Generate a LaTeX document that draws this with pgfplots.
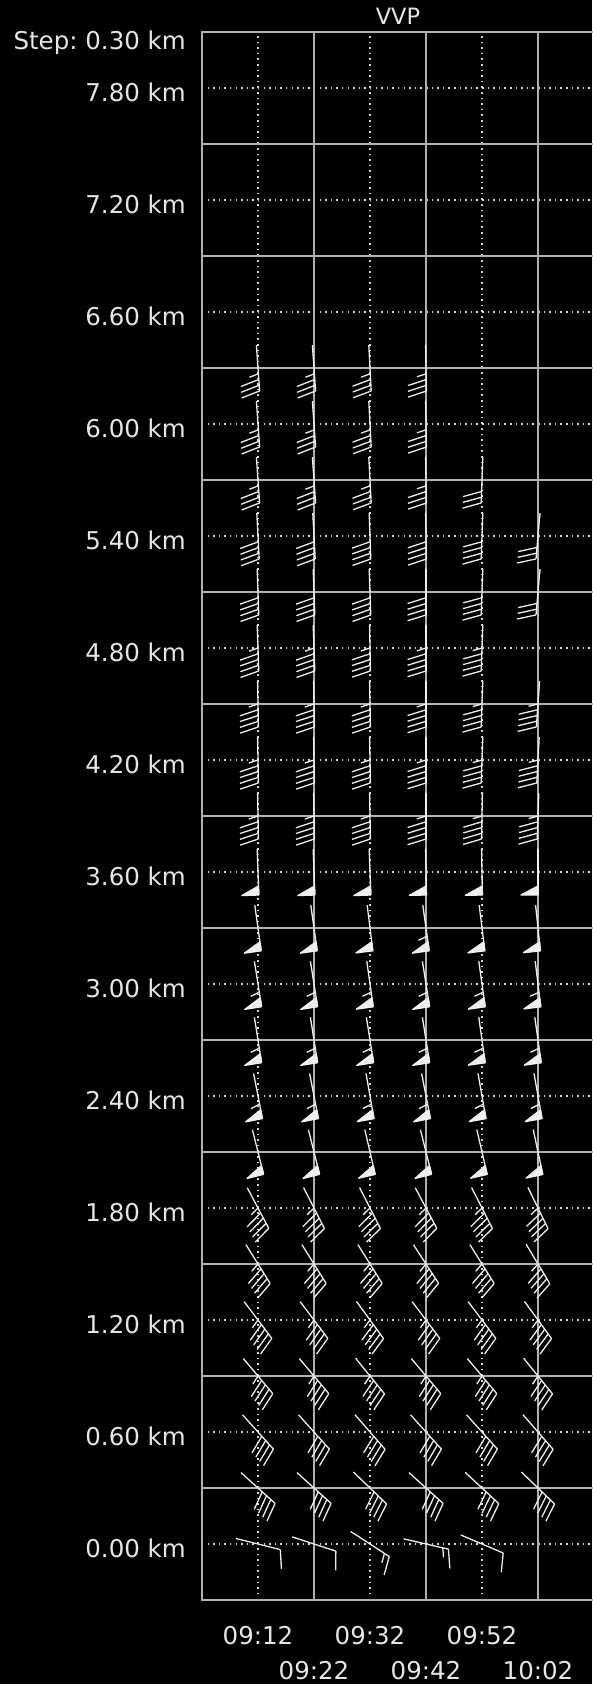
\documentclass[border=0pt]{standalone}
\usepackage{pgfplots}
\pgfplotsset{compat=1.18}
\usepackage{pgfplotstable}
\usepackage{fontspec}
\setmainfont{DejaVu Sans}

\definecolor{txt}{HTML}{E6E6E6}
\definecolor{gridsolid}{HTML}{B0B0B0}
\definecolor{griddot}{HTML}{D8D8D8}
\definecolor{barbcol}{HTML}{EEEEEE}

% t = minutes after 09:00, h = height (km), dir = angle of the barb tip (deg), spd = kt
\pgfplotstableread{
t h dir spd
12 0.0 -14 10
22 0.0 -18 10
32 0.0 -33 15
42 0.0 -13 15
52 0.0 -23 10
12 0.3 -42 40
22 0.3 -42 40
32 0.3 -44 40
42 0.3 -42 40
52 0.3 -43 40
62 0.3 -44 40
12 0.6 -48 40
22 0.6 -48 40
32 0.6 -49 40
42 0.6 -48 40
52 0.6 -48 40
62 0.6 -49 40
12 0.9 -50 45
22 0.9 -50 45
32 0.9 -51 45
42 0.9 -50 45
52 0.9 -50 45
62 0.9 -51 45
12 1.2 -53 45
22 1.2 -53 45
32 1.2 -54 45
42 1.2 -53 45
52 1.2 -53 45
62 1.2 -54 45
12 1.5 -58 45
22 1.5 -58 45
32 1.5 -58 45
42 1.5 -57 45
52 1.5 -58 45
62 1.5 -59 45
12 1.8 -62 45
22 1.8 -63 45
32 1.8 -63 45
42 1.8 -62 45
52 1.8 -63 45
62 1.8 -64 45
12 2.1 -76 50
22 2.1 -76 50
32 2.1 -77 50
42 2.1 -76 50
52 2.1 -77 50
62 2.1 -78 50
12 2.4 -79 55
22 2.4 -79 55
32 2.4 -80 55
42 2.4 -79 55
52 2.4 -80 55
62 2.4 -80 55
12 2.7 -81 55
22 2.7 -81 55
32 2.7 -81 55
42 2.7 -81 55
52 2.7 -82 55
62 2.7 -82 55
12 3.0 -81 55
22 3.0 -81 55
32 3.0 -82 55
42 3.0 -81 55
52 3.0 -82 55
62 3.0 -83 55
12 3.3 -82 50
22 3.3 -82 50
32 3.3 -83 50
42 3.3 -82 55
52 3.3 -83 50
62 3.3 -84 50
12 3.6 -88 50
22 3.6 -88 50
32 3.6 -88 50
42 3.6 -89 50
52 3.6 -89 50
62 3.6 -90 50
12 3.9 -89 45
22 3.9 -89 45
32 3.9 -89 45
42 3.9 -90 45
52 3.9 -91 45
62 3.9 -92 45
12 4.2 -89 45
22 4.2 -89 45
32 4.2 -89 45
42 4.2 -90 45
52 4.2 -92 45
62 4.2 -93 45
12 4.5 -89 45
22 4.5 -89 45
32 4.5 -89 45
42 4.5 -90 45
52 4.5 -92 45
62 4.5 -94 45
12 4.8 -88 45
22 4.8 -88 45
32 4.8 -89 45
42 4.8 -90 45
52 4.8 -92 45
12 5.1 -88 40
22 5.1 -88 40
32 5.1 -88 40
42 5.1 -90 40
52 5.1 -92 40
62 5.1 -95 30
12 5.4 -87 40
22 5.4 -87 40
32 5.4 -88 40
42 5.4 -89 40
52 5.4 -92 40
62 5.4 -95 30
12 5.7 -86 35
22 5.7 -86 35
32 5.7 -87 35
42 5.7 -89 35
52 5.7 -92 30
12 6.0 -86 35
22 6.0 -86 35
32 6.0 -87 35
42 6.0 -89 35
12 6.3 -86 35
22 6.3 -86 35
32 6.3 -87 35
42 6.3 -89 35
}\vvpdata

% wind barb, staff 46pt centred on the point, feathers at the tip end
\pgfdeclareplotmark{barb}{%
  \pgfscope
  \pgfmathtruncatemacro\bfl{floor(\bspd/50)}%
  \pgfmathtruncatemacro\bbr{floor((\bspd-50*\bfl)/10)}%
  \pgfmathtruncatemacro\bhf{(\bspd-50*\bfl-10*\bbr)>=5}%
  \pgftransformrotate{\bdir}%
  \pgfpathmoveto{\pgfqpoint{-23pt}{0pt}}%
  \pgfpathlineto{\pgfqpoint{23pt}{0pt}}%
  \pgfusepathqstroke
  \ifnum\bfl>0
    \foreach \i in {1,...,\bfl}{%
      \pgfmathsetmacro\s{23-12*(\i-1)}%
      \pgfpathmoveto{\pgfpoint{\s pt}{0pt}}%
      \pgfpathlineto{\pgfpoint{\s pt}{-17pt}}%
      \pgfpathlineto{\pgfpoint{\s pt-9pt}{0pt}}%
      \pgfpathclose
      \pgfusepathqfillstroke}%
    \pgfmathsetmacro\boff{46-12*\bfl-2.75}%
  \else
    \def\boff{46}%
  \fi
  \ifnum\bbr>0
    \foreach \j in {1,...,\bbr}{%
      \pgfmathsetmacro\s{\boff-23-5.75*(\j-1)}%
      \pgfpathmoveto{\pgfpoint{\s pt}{0pt}}%
      \pgfpathlineto{\pgfpoint{\s pt+5.75pt}{-18.4pt}}%
      \pgfusepathqstroke}%
    \pgfmathsetmacro\boff{\boff-5.75*\bbr}%
  \fi
  \ifnum\bhf>0
    \ifdim\boff pt=46pt \def\boff{37.375}\fi
    \pgfmathsetmacro\s{\boff-23}%
    \pgfpathmoveto{\pgfpoint{\s pt}{0pt}}%
    \pgfpathlineto{\pgfpoint{\s pt+2.875pt}{-9.2pt}}%
    \pgfusepathqstroke
  \fi
  \endpgfscope
}

\newcommand\lblfont{\fontsize{24.5}{29}\selectfont}

\begin{document}
\frenchspacing
\begin{tikzpicture}
\fill[black] (-202pt,-84pt) rectangle (390pt,1600pt);
\begin{axis}[
    at={(0pt,0pt)}, anchor=south west,
    scale only axis, width=392pt, height=1568pt,
    xmin=2, xmax=72, ymin=-0.3, ymax=8.1,
    clip=false,
    /pgf/number format/assume math mode=true,
    axis line style={draw=gridsolid, line width=1.8pt},
    major tick length=0pt,
    grid=major,
    major grid style={draw=griddot, line width=1.5pt, dash pattern=on 1.5pt off 4.1pt},
    xtick={12,32,52},
    xticklabels={09:12,09:32,09:52},
    extra x ticks={22,42,62},
    extra x tick labels={09:22,09:42,10:02},
    extra x tick style={grid=major, major grid style={draw=gridsolid, line width=1.6pt, solid},
        xticklabel style={yshift=-35pt}},
    xticklabel style={anchor=base, inner sep=0pt, yshift=-44pt},
    ytick={0,0.6,1.2,1.8,2.4,3.0,3.6,4.2,4.8,5.4,6.0,6.6,7.2,7.8},
    yticklabel={\pgfmathprintnumber[fixed, fixed zerofill, precision=2]{\tick} km},
    yticklabel style={anchor=east, inner sep=0pt, xshift=-16pt, yshift=-4pt},
    extra y ticks={0.3,0.9,1.5,2.1,2.7,3.3,3.9,4.5,5.1,5.7,6.3,6.9,7.5},
    extra y tick labels={},
    extra y tick style={grid=major, major grid style={draw=gridsolid, line width=1.6pt, solid}},
    tick label style={font=\lblfont, color=txt},
    title={VVP},
    title style={at={(0.5,1)}, anchor=base, yshift=2pt, inner sep=0pt,
        font=\fontsize{22.5}{27}\selectfont, color=txt},
]
\addplot[scatter, only marks, mark=barb, color=barbcol, point meta=y,
    mark options={draw=barbcol, fill=barbcol, line width=1.3pt, solid, line join=round},
    visualization depends on={\thisrow{dir}\as\bdir},
    visualization depends on={\thisrow{spd}\as\bspd},
    scatter/@pre marker code/.code={\pgfscope},
    scatter/@post marker code/.code={\endpgfscope}]
    table[x=t, y=h] {\vvpdata};
\node[anchor=base east, inner sep=0pt, font=\lblfont, color=txt,
    xshift=-16pt, yshift=-17pt] at (rel axis cs:0,1) {Step: 0.30 km};
\end{axis}
\pgfresetboundingbox
\path[use as bounding box] (-202pt,-84pt) rectangle (390pt,1600pt);
\end{tikzpicture}
\end{document}
